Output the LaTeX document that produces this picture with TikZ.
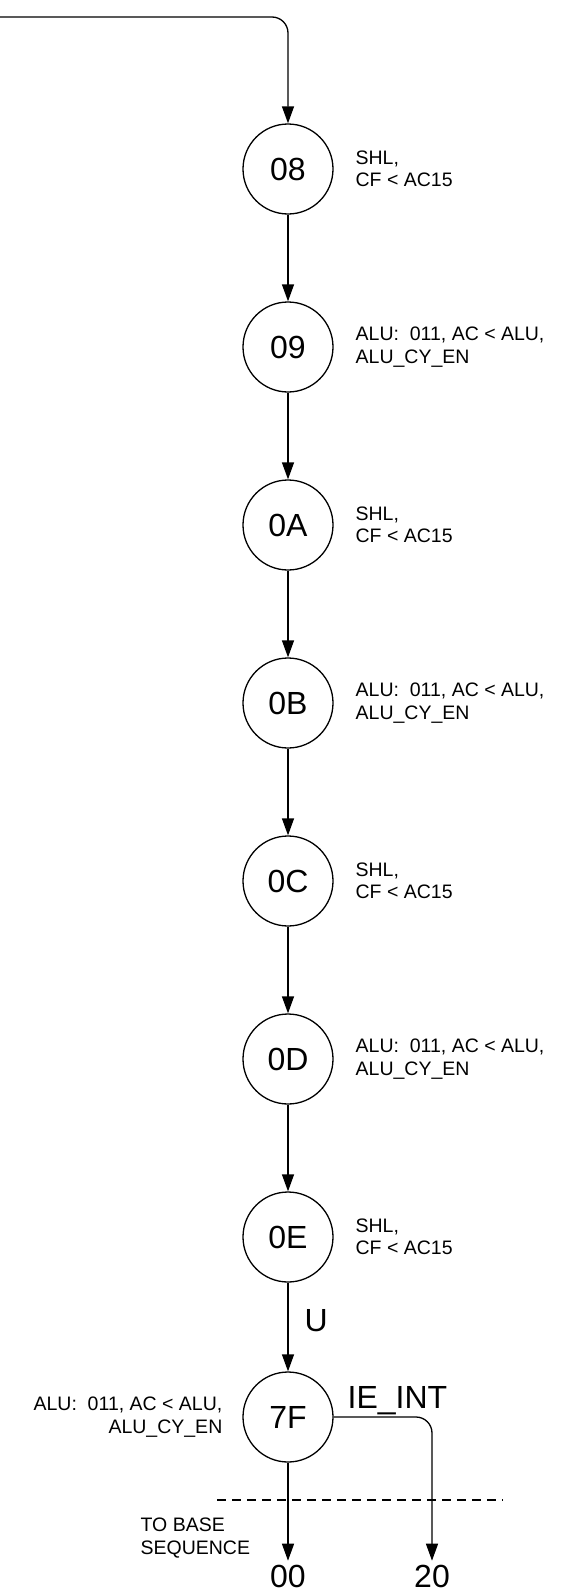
\documentclass[tikz,border=0pt]{standalone}
\usepackage{fontspec}
\setmainfont{Liberation Sans}
\usetikzlibrary{arrows.meta,positioning}

\begin{document}
\begin{tikzpicture}[x=1pt,y=-1pt,>={Triangle[length=17pt,width=12pt]},line width=1.3pt,
  state/.style={circle,draw,minimum size=90pt,inner sep=0pt,font=\fontsize{32}{38}\selectfont},
  big/.style={font=\fontsize{32}{38}\selectfont},
  note/.style={font=\fontsize{19.5}{22.5}\selectfont,inner sep=0pt}]
  \useasboundingbox (0,0) rectangle (572,1595);
  % microcode states
  \node[state] (s08) at (288,169) {08};
  \node[state] (s09) at (288,347) {09};
  \node[state] (s0A) at (288,525) {0A};
  \node[state] (s0B) at (288,703) {0B};
  \node[state] (s0C) at (288,881) {0C};
  \node[state] (s0D) at (288,1059) {0D};
  \node[state] (s0E) at (288,1237) {0E};
  \node[state] (s7F) at (288,1417) {7F};
  % actions
  \node[note,anchor=west,align=left] (t08) at (355,169) {SHL,\\CF < AC15};
  \node[note,anchor=west,align=left] (t09) at (355,347) {ALU:~~011, AC < ALU,\\ALU\_CY\_EN};
  \node[note,anchor=west,align=left] (t0A) at (355,525) {SHL,\\CF < AC15};
  \node[note,anchor=west,align=left] (t0B) at (355,703) {ALU:~~011, AC < ALU,\\ALU\_CY\_EN};
  \node[note,anchor=west,align=left] (t0C) at (355,881) {SHL,\\CF < AC15};
  \node[note,anchor=west,align=left] (t0D) at (355,1059) {ALU:~~011, AC < ALU,\\ALU\_CY\_EN};
  \node[note,anchor=west,align=left] (t0E) at (355,1237) {SHL,\\CF < AC15};
  \node[note,anchor=east,align=right] (t7F) at (223,1417) {ALU:~~011, AC < ALU,\\ALU\_CY\_EN};
  % exits
  \node[big] (base) at (288,1576) {00};
  \node[big] (intr) at (432,1576) {20};
  \node[note,anchor=west,align=left] (tobase) at (140,1538) {TO BASE\\SEQUENCE};
  \node[big,inner sep=0pt,anchor=base west] (ieint) at (347,1408) {IE\_INT};
  \coordinate (entry) at (0,17);
  \coordinate (cutL) at (217,1500);
  \coordinate (cutR) at (503,1500);
  % flow
  \draw[->,rounded corners=16pt] (entry) -| (s08);
  \draw[->] (s08) -- (s09);
  \draw[->] (s09) -- (s0A);
  \draw[->] (s0A) -- (s0B);
  \draw[->] (s0B) -- (s0C);
  \draw[->] (s0C) -- (s0D);
  \draw[->] (s0D) -- (s0E);
  \draw[->] (s0E) -- node[big,inner sep=0pt,anchor=west,xshift=16pt,yshift=6pt] (u) {U} (s7F);
  \draw[->] (s7F) -- (base);
  \draw[->,rounded corners=16pt] (s7F.east) -| (intr);
  \draw[dash pattern=on 9pt off 6pt] (cutL) -- (cutR);
\end{tikzpicture}
\end{document}
